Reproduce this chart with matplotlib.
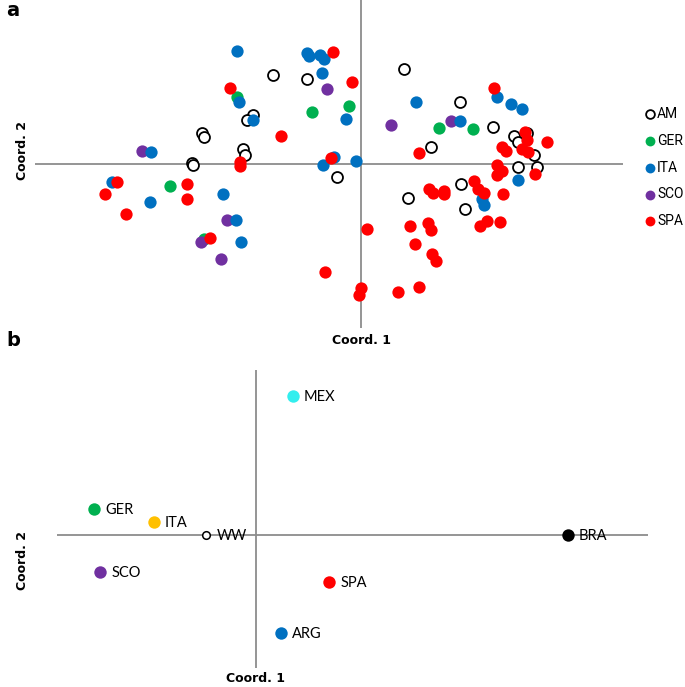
import matplotlib.pyplot as plt

# panel a: MDS coordinates per group
am_x = [-1.08, -1.14, -1.59, -1.57, -1.18, -1.16, -1.69, -1.68, -0.88, -0.54, 0.43, 0.70,
        -0.24, 0.47, 0.99, 1.32, 1.53, 1.57, 1.66, 1.73, 1.57, 1.76, 1.00, 1.04]
am_y = [0.49, 0.44, 0.31, 0.27, 0.15, 0.09, 0.01, -0.01, 0.89, 0.85, 0.95, 0.17,
        -0.13, -0.34, 0.62, 0.37, 0.28, 0.22, 0.31, 0.09, -0.03, -0.03, -0.20, -0.45]
ger_x = [-1.24, -1.91, -1.57, -0.49, -0.12, 0.78, 1.12]
ger_y = [0.67, -0.22, -0.75, 0.52, 0.58, 0.36, 0.35]
ita_x = [-1.24, -1.22, -1.08, -2.10, -2.49, -2.11, -1.38, -1.25, -1.20, -0.54, -0.52, -0.41, -0.37,
         -0.39, -0.15, -0.38, -0.27, -0.05, 0.55, 0.99, 1.36, 1.50, 1.61, 1.57, 1.21, 1.23]
ita_y = [1.13, 0.62, 0.44, 0.12, -0.18, -0.38, -0.30, -0.56, -0.78, 1.11, 1.08, 1.09, 1.05,
         0.91, 0.45, -0.01, 0.07, 0.03, 0.62, 0.43, 0.67, 0.60, 0.55, -0.16, -0.35, -0.41]
sco_x = [-2.19, -1.34, -1.60, -1.40, -0.34, 0.30, 0.90]
sco_y = [0.13, -0.56, -0.78, -0.95, 0.75, 0.39, 0.43]
spa_x = [-1.31, -1.21, -1.21, -2.44, -2.56, -2.35, -1.74, -1.74, -1.51, -0.28, -0.09, -0.80, -0.30,
         0.58, 0.06, -0.36, 0.00, -0.02, 0.37, 0.58, 0.49, 0.67, 0.70, 0.54, 0.71, 0.75, 0.68, 0.72,
         0.83, 0.83, 1.13, 1.17, 1.23, 1.42, 1.36, 1.41, 1.36, 1.19, 1.26, 1.39, 1.74, 1.33, 1.41,
         1.45, 1.64, 1.66, 1.61, 1.67, 1.86]
spa_y = [0.76, 0.02, -0.02, -0.18, -0.30, -0.50, -0.20, -0.35, -0.74, 1.12, 0.82, 0.28, 0.06,
         0.11, -0.65, -1.08, -1.24, -1.31, -1.28, -1.23, -0.62, -0.59, -0.66, -0.80, -0.90, -0.97,
         -0.25, -0.29, -0.27, -0.30, -0.17, -0.25, -0.29, -0.30, -0.01, -0.07, -0.11, -0.62, -0.57,
         -0.58, -0.10, 0.76, 0.17, 0.13, 0.32, 0.24, 0.15, 0.12, 0.22]

# panel b: group centroids
b_names = ["MEX", "GER", "ITA", "WW", "BRA", "SCO", "SPA", "ARG"]
b_x = [0.37, -1.62, -1.02, -0.50, 3.12, -1.56, 0.73, 0.25]
b_y = [1.39, 0.26, 0.13, 0.00, 0.00, -0.37, -0.47, -0.98]
b_colors = ["#33EEEE", "#00B050", "#FFC000", "white", "black", "#7030A0", "#FF0000", "#0070C0"]

W, H = 685, 687
fig = plt.figure(figsize=(W / 100, H / 100), dpi=100)
axis_col = "#8C8C8C"

# ---- panel a ----
ax = fig.add_axes([0, 1 - 330 / H, 1, 330 / H], frameon=False)
ax.set_xlim(-3.61, 3.24)
ax.set_ylim(-1.66, 1.64)
ax.set_xticks([])
ax.set_yticks([])
ax.hlines(0, -3.26, 2.62, color=axis_col, lw=1.3, zorder=0)
ax.vlines(0, -1.64, 1.64, color=axis_col, lw=1.3, zorder=0)

ax.scatter(am_x, am_y, s=62, facecolor="white", edgecolor="black", linewidth=1.3, label="AM", zorder=1)
ax.scatter(ger_x, ger_y, s=78, color="#00B050", linewidth=0, label="GER", zorder=2)
ax.scatter(ita_x, ita_y, s=78, color="#0070C0", linewidth=0, label="ITA", zorder=4)
ax.scatter(sco_x, sco_y, s=78, color="#7030A0", linewidth=0, label="SCO", zorder=3)
ax.scatter(spa_x, spa_y, s=78, color="#FF0000", linewidth=0, label="SPA", zorder=5)
ax.legend(loc="upper left", bbox_to_anchor=(644.5 / W, 1 - 107 / H), bbox_transform=fig.transFigure,
          frameon=False, handletextpad=0.1, labelspacing=0.92, borderpad=0, borderaxespad=0,
          markerscale=0.8, handlelength=0.8, prop={"family": "Roboto", "size": 10})

fig.text(6 / W, 1 - 10 / H, "a", fontsize=14, fontweight="bold", ha="left", va="center")
fig.text(22 / W, 1 - 150 / H, "Coord. 2", fontsize=9, fontweight="bold", rotation=90,
         ha="center", va="center")
fig.text(362 / W, 1 - 340 / H, "Coord. 1", fontsize=9, fontweight="bold", ha="center", va="center")

# ---- panel b ----
bx = fig.add_axes([0, 0, 1, 347 / H], frameon=False)
bx.set_xlim(-2.56, 4.29)
bx.set_ylim(-1.52, 1.95)
bx.set_xticks([])
bx.set_yticks([])
bx.hlines(0, -1.99, 3.92, color=axis_col, lw=1.3, zorder=0)
bx.vlines(0, -1.33, 1.65, color=axis_col, lw=1.3, zorder=0)

for name, x, y, c in zip(b_names, b_x, b_y, b_colors):
    if name == "WW":
        bx.scatter(x, y, s=30, facecolor="white", edgecolor="black", linewidth=1.1, zorder=2)
    else:
        bx.scatter(x, y, s=80, color=c, linewidth=0, zorder=2)
    bx.annotate(name, (x, y), xytext=(8, -1), textcoords="offset points", ha="left", va="center",
                fontsize=10.5, family="Lato")

fig.text(6 / W, 1 - 340 / H, "b", fontsize=14, fontweight="bold", ha="left", va="center")
fig.text(22 / W, 1 - 560 / H, "Coord. 2", fontsize=9, fontweight="bold", rotation=90,
         ha="center", va="center")
fig.text(255 / W, 1 - 679 / H, "Coord. 1", fontsize=9, fontweight="bold", ha="center", va="center")

plt.savefig("out.png", dpi=100)
plt.close()
